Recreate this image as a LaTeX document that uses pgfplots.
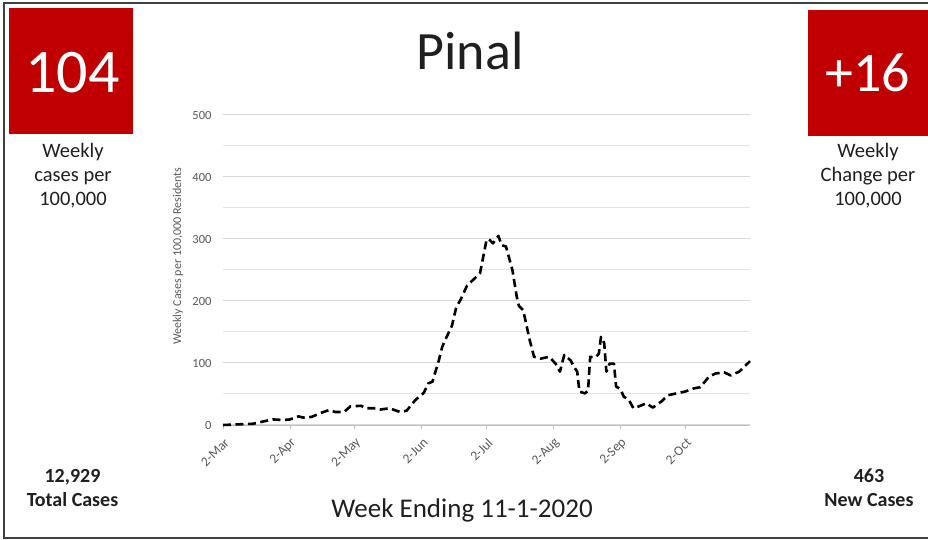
\documentclass[border=0pt]{standalone}
\usepackage{fontspec}
\setmainfont{Carlito}
\usepackage{pgfplots}
\pgfplotsset{compat=1.18}
\definecolor{boxred}{HTML}{C00000}
\definecolor{tickgray}{HTML}{595959}
\definecolor{gridgray}{HTML}{D9D9D9}
\definecolor{axisgray}{HTML}{BFBFBF}
\definecolor{txt}{HTML}{1F1F1F}
\begin{document}
\begin{tikzpicture}[x=1pt,y=1pt]
\useasboundingbox (0,0) rectangle (928,540);
\draw[line width=1.2pt, color=black!75] (929,2) -- (4,2) -- (4,537) -- (929,537);
\fill[boxred] (9,406) rectangle (133,532);
\fill[boxred] (808,404) rectangle (928,530);
\node[white, anchor=base, inner sep=0pt, font=\fontsize{62}{62}\selectfont] at (72.5,447) {104};
\node[white, anchor=base, inner sep=0pt, font=\fontsize{56}{56}\selectfont] at (868,448) {+16};
\node[txt, anchor=base, inner sep=0pt, font=\fontsize{54}{54}\selectfont] at (470,470) {Pinal};
\begin{scope}[every node/.style={txt, anchor=base, inner sep=0pt, font=\fontsize{20.5}{24}\selectfont}]
\node at (73,382) {Weekly};
\node at (73,358) {cases per};
\node at (73,334) {100,000};
\node at (868,382) {Weekly};
\node at (868,358) {Change per};
\node at (868,334) {100,000};
\node[font=\fontsize{20}{24}\selectfont\bfseries] at (72.5,57) {12,929};
\node[font=\fontsize{20}{24}\selectfont\bfseries] at (72.5,33) {Total Cases};
\node[font=\fontsize{20}{24}\selectfont\bfseries] at (869,57) {463};
\node[font=\fontsize{20}{24}\selectfont\bfseries] at (869,33) {New Cases};
\node[font=\fontsize{27}{30}\selectfont] at (462,22) {Week Ending 11-1-2020};
\end{scope}
\begin{axis}[
  at={(223pt,115pt)}, anchor=south west,
  scale only axis, width=527pt, height=310pt,
  xmin=0, xmax=244, ymin=0, ymax=500,
  axis x line*=bottom, axis y line*=left,
  x axis line style={draw=axisgray, line width=0.8pt, -},
  y axis line style={draw=none},
  ytick={0,100,...,500},
  minor ytick={50,150,...,450},
  ymajorgrids, yminorgrids,
  major grid style={gridgray, line width=1pt},
  minor grid style={gridgray!70, line width=1pt},
  ytick style={draw=none}, minor y tick style={draw=none},
  xtick={0,31,61,92,122,153,184,214},
  xticklabels={2-Mar,2-Apr,2-May,2-Jun,2-Jul,2-Aug,2-Sep,2-Oct},
  xtick style={draw=axisgray, line width=0.8pt},
  tick align=outside, major tick length=4pt,
  /pgf/number format/assume math mode=true,
  tick label style={color=tickgray, font=\fontsize{12.5}{13}\selectfont},
  xticklabel style={rotate=45, anchor=east, font=\fontsize{13.5}{14}\selectfont, xshift=-2pt, yshift=-11pt},
  yticklabel style={xshift=-4pt},
  ylabel={Weekly Cases per 100,000 Residents},
  every axis y label/.style={at={(rel axis cs:0,0.544)}, xshift=-45pt, rotate=90, anchor=center, color=tickgray, font=\fontsize{12}{13}\selectfont},
  clip=false,
]
\addplot[black, line width=2.6pt, dash pattern=on 8pt off 4.5pt, line join=round] coordinates {
(0,0) (7,1) (14,2) (19,6) (23,9) (28,8) (31,9) (35,14) (37,12) (41,13)
(45,19) (49,24) (52,21) (56,21) (59,30) (64,31) (66,27) (71,27) (73,25) (77,27)
(82,21) (85,23) (89,40) (93,52) (95,67) (97,70) (100,105) (101.5,126) (103,138) (106,160)
(108,190) (110,202) (113,225) (117,238) (119,245) (122,298) (123,300) (125,293) (127.5,305) (129,290)
(131,288) (134,250) (136,207) (137,192) (139,185) (142,137) (144,110) (147,107) (151,110) (154,99)
(156,86) (158,113) (161,104) (162.5,94) (164,86) (165,54) (167.5,51) (169,55) (170,110) (172.5,109)
(174,115) (175,142) (176.5,132) (177.5,86) (179,99) (181,99) (182,62) (184,58) (185.5,46) (188,40)
(190,27) (192.5,30) (196,35) (199,28) (203,38) (206,48) (210,51) (214,54) (218,59) (221,61)
(225,78) (228,83) (232,85) (235,80) (239,86) (244,103)
};
\end{axis}
\end{tikzpicture}
\end{document}
